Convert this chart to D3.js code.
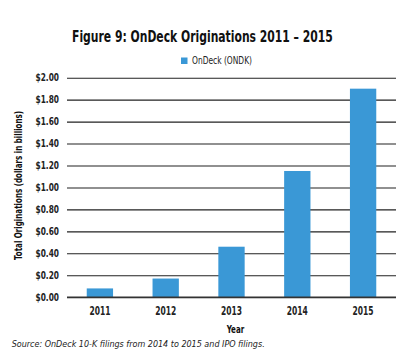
<!DOCTYPE html>
<html><head><meta charset="utf-8">
<script src="https://cdn.jsdelivr.net/npm/d3@7"></script>
<style>
body{margin:0;background:#fff;}
svg text{font-family:"DejaVu Sans",sans-serif;font-stretch:condensed;}
</style></head>
<body><svg id="c" width="414" height="355"></svg>
<script>
const years = ["2011","2012","2013","2014","2015"];
const originations = [0.08, 0.17, 0.46, 1.15, 1.90];
const yTicks = [0,0.2,0.4,0.6,0.8,1.0,1.2,1.4,1.6,1.8,2.0];
const seriesName = "OnDeck (ONDK)";
const title = "Figure 9: OnDeck Originations 2011 \u2013 2015";
const yTitle = "Total Originations (dollars in billions)";
const xTitle = "Year";
const source = "Source: OnDeck 10-K filings from 2014 to 2015 and IPO filings.";

const svg = d3.select("#c");
const L = 67, R = 396, T = 77.7, B = 297.2;
const x = d3.scaleBand().domain(years).range([L, R]).paddingInner(0.6).paddingOuter(0.3);
const y = d3.scaleLinear().domain([0, 2]).range([B, T]);
const blue = "#3a98d6";
const fit = (sel, w) => sel.attr("textLength", w).attr("lengthAdjust", "spacingAndGlyphs");

// title: horizontally condensed via scale transform
const tg = svg.append("g");
const tt = tg.append("text").attr("x", 0).attr("y", 0)
  .attr("font-weight","bold").attr("font-size",16.5).attr("fill","#111").text(title);
const tw = tt.node().getComputedTextLength();
tg.attr("transform", `translate(72,42) scale(${261 / tw},1)`);

// legend
svg.append("rect").attr("x",181).attr("y",57.5).attr("width",6.5).attr("height",6.5).attr("fill",blue);
fit(svg.append("text").attr("x",192).attr("y",64.3).attr("font-size",9.8).attr("fill","#222").text(seriesName), 60);

// grid
const yAxis = d3.axisLeft(y).tickValues(yTicks).tickSize(-(R-L)).tickFormat(d => "$" + d3.format(".2f")(d)).tickPadding(9);
const g = svg.append("g").attr("transform", `translate(${L},0)`).call(yAxis);
g.select(".domain").remove();
g.selectAll(".tick line").attr("stroke","#222").attr("stroke-width",1.1);
g.selectAll(".tick text").attr("font-size",10).attr("fill","#222").attr("font-weight","bold")
  .attr("x", -8).attr("textLength", 23.5).attr("lengthAdjust","spacingAndGlyphs");

// bars
svg.selectAll("rect.bar").data(years).enter().append("rect").attr("class","bar")
  .attr("x", d => x(d)).attr("width", x.bandwidth())
  .attr("y", (d,i) => y(originations[i])).attr("height", (d,i) => B - y(originations[i]))
  .attr("fill", blue);

svg.append("line").attr("x1",L).attr("x2",R).attr("y1",B).attr("y2",B).attr("stroke","#333").attr("stroke-width",1.5);

// x axis labels
const xa = svg.append("g").attr("transform",`translate(0,${B})`).call(d3.axisBottom(x).tickSize(0).tickPadding(9));
xa.select(".domain").remove();
xa.selectAll("text").attr("font-size",12).attr("fill","#222").attr("font-weight","bold")
  .attr("textLength", 21).attr("lengthAdjust","spacingAndGlyphs");

fit(svg.append("text").attr("x", 226.7).attr("y", 333.3)
  .attr("font-weight","bold").attr("font-size",10.5).attr("fill","#111").text(xTitle), 17.6);

fit(svg.append("text").attr("transform","translate(21.5,260) rotate(-90)")
  .attr("font-weight","bold").attr("font-size",10.3).attr("fill","#111").text(yTitle), 149);

fit(svg.append("text").attr("x",11.7).attr("y",347).attr("font-style","italic").attr("font-size",9)
  .style("font-stretch","normal").attr("fill","#222").text(source), 253);
</script></body></html>
